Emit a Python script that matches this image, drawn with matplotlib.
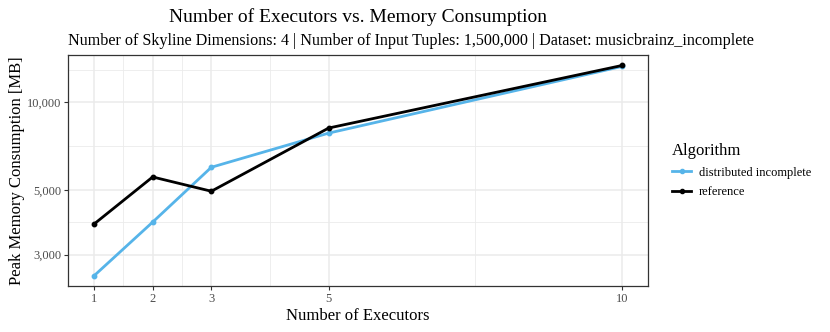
import matplotlib
matplotlib.use("Agg")
import matplotlib.pyplot as plt
from matplotlib.ticker import FixedLocator, NullFormatter, NullLocator
from matplotlib.lines import Line2D

plt.rcParams['font.family'] = ['Liberation Serif', 'DejaVu Serif']

executors = [1, 2, 3, 5, 10]
distributed_incomplete = [2540, 3880, 5980, 7830, 13250]
reference = [3820, 5540, 4950, 8150, 13350]
x_ticks = [1, 2, 3, 5, 10]
y_ticks = [3000, 5000, 10000]
y_tick_labels = ["3,000", "5,000", "10,000"]
x_minor = [1.5, 2.5, 4, 7.5]
y_minor = [3873, 7071, 12910]

title = "Number of Executors vs. Memory Consumption"
subtitle = "Number of Skyline Dimensions: 4 | Number of Input Tuples: 1,500,000 | Dataset: musicbrainz_incomplete"

fig = plt.figure(figsize=(8.3, 3.32), dpi=100)
W, H = 830, 332
L, R, T, B = 68, 648, 55, 286
ax = fig.add_axes([L / W, 1 - B / H, (R - L) / W, (B - T) / H])

ax.set_yscale('log')
ax.set_xlim(0.557, 10.443)
ax.set_ylim(2344, 14500)

grid_c = '#EBEBEB'
for xv in x_minor:
    ax.axvline(xv, color=grid_c, lw=0.6, zorder=0)
for yv in y_minor:
    ax.axhline(yv, color=grid_c, lw=0.6, zorder=0)
for xv in x_ticks:
    ax.axvline(xv, color=grid_c, lw=1.1, zorder=0)
for yv in y_ticks:
    ax.axhline(yv, color=grid_c, lw=1.1, zorder=0)

blue = '#56B4E9'
ax.plot(executors, distributed_incomplete, color=blue, lw=2.0, marker='o', ms=3.2, zorder=3)
ax.plot(executors, reference, color='black', lw=2.0, marker='o', ms=3.2, zorder=4)

ax.xaxis.set_major_locator(FixedLocator(x_ticks))
ax.set_xticklabels([str(v) for v in x_ticks])
ax.yaxis.set_major_locator(FixedLocator(y_ticks))
ax.yaxis.set_minor_locator(NullLocator())
ax.yaxis.set_minor_formatter(NullFormatter())
ax.set_yticklabels(y_tick_labels)

for s in ax.spines.values():
    s.set_color('#333333')
    s.set_linewidth(0.9)
ax.tick_params(axis='both', which='major', colors='#333333', labelcolor='#4D4D4D',
               labelsize=9, length=3, width=0.8, pad=2)

ax.set_xlabel("Number of Executors", fontsize=12, labelpad=2)
ax.set_ylabel("Peak Memory Consumption [MB]", fontsize=12, labelpad=1)

fig.text((L + R) / 2 / W, 1 - 22 / H, title, ha='center', va='baseline', fontsize=14)
fig.text(L / W, 1 - 45 / H, subtitle, ha='left', va='baseline', fontsize=11.6)

handles = [Line2D([0], [0], color=blue, lw=2.0, marker='o', ms=3),
           Line2D([0], [0], color='black', lw=2.0, marker='o', ms=3)]
leg = fig.legend(handles, ["distributed incomplete", "reference"], title="Algorithm",
                 loc='upper left', bbox_to_anchor=(661 / W, 1 - 132 / H), frameon=False,
                 fontsize=9, title_fontsize=12, handlelength=1.5, handletextpad=0.6,
                 labelspacing=0.6)
leg._legend_box.align = "left"

fig.savefig("out.png", dpi=100)
